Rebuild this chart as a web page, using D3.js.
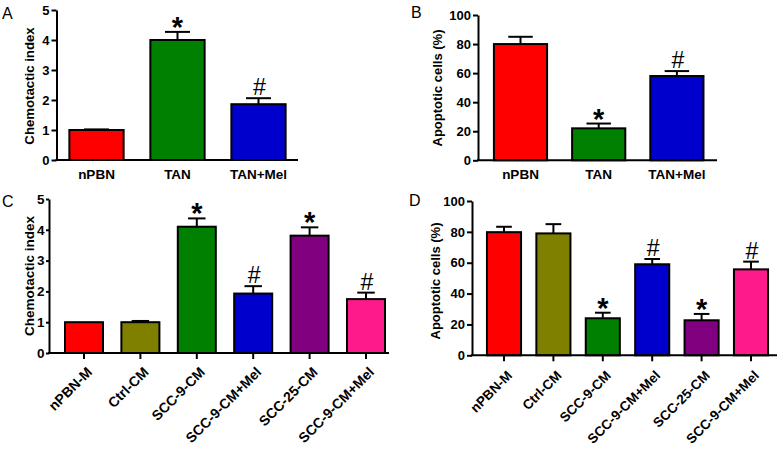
<!DOCTYPE html>
<html>
<head>
<meta charset="utf-8">
<script src="https://cdn.jsdelivr.net/npm/d3@7"></script>
<style>
  html, body { margin: 0; padding: 0; background: #fff; }
  svg { display: block; }
  text { font-family: "Liberation Sans", Arial, sans-serif; }
</style>
</head>
<body>
<svg id="chart" width="782" height="454"></svg>
<script>
// ---- Data ----
const catsAB = ["nPBN", "TAN", "TAN+Mel"];
const catsCD = ["nPBN-M", "Ctrl-CM", "SCC-9-CM", "SCC-9-CM+Mel", "SCC-25-CM", "SCC-9-CM+Mel"];

const chemoA = [1.0, 4.0, 1.86];
const chemoAErr = [0.02, 0.27, 0.2];
const marksA = ["", "*", "#"];

const apopB = [80, 22, 58];
const apopBErr = [5, 3.3, 3.4];
const marksB = ["", "*", "#"];

const chemoC = [1.0, 1.0, 4.1, 1.93, 3.81, 1.75];
const chemoCErr = [0.0, 0.04, 0.27, 0.24, 0.27, 0.21];
const marksC = ["", "", "*", "#", "*", "#"];

const apopD = [79.8, 79, 24, 59, 22.7, 55.7];
const apopDErr = [3.5, 6, 3.6, 3.4, 4.1, 5];
const marksD = ["", "", "*", "#", "*", "#"];

const colorsAB = ["#ff0000", "#008000", "#0000cc"];
const colorsCD = ["#ff0000", "#808000", "#008000", "#0000cc", "#800080", "#ff1a8c"];

const ticks5 = [0, 1, 2, 3, 4, 5];
const ticks100 = [0, 20, 40, 60, 80, 100];

const svg = d3.select("#chart");
const ctx = document.createElement("canvas").getContext("2d");

// glyph metrics (tight box) for a symbol at 100px
function glyph(ch, weight) {
  ctx.font = `${weight} 100px "Liberation Sans"`;
  const m = ctx.measureText(ch);
  return { asc: m.actualBoundingBoxAscent / 100, desc: m.actualBoundingBoxDescent / 100,
           left: m.actualBoundingBoxLeft / 100, right: m.actualBoundingBoxRight / 100 };
}
const starG = glyph("*", "bold");
const hashG = glyph("#", "normal");

// symbol with glyph height h, bottom at yBottom, centred at cx
function symbol(g, ch, gm, weight, h, cx, yBottom) {
  const fs = h / (gm.asc + gm.desc);
  const baseline = yBottom - gm.desc * fs;
  const gx = cx - ((gm.right - gm.left) / 2) * fs;
  g.append("text").attr("x", gx).attr("y", baseline).attr("font-size", fs)
    .attr("font-weight", weight).text(ch);
}

function panel(o) {
  const g = svg.append("g");
  const y = d3.scaleLinear().domain([0, o.ymax]).range([o.y0, o.y1]);
  const x = d3.scaleBand().domain(d3.range(o.cats.length))
    .range([o.bx0, o.bx1]).paddingInner(o.pi).paddingOuter(o.pi / 2);

  const bw = x.bandwidth();
  o.vals.forEach((v, i) => {
    const cx = x(i) + bw / 2;
    const top = y(v + o.err[i]);
    if (o.err[i] > 0) {
      g.append("line").attr("x1", cx).attr("x2", cx).attr("y1", y(v)).attr("y2", top)
        .attr("stroke", "#000").attr("stroke-width", 2);
      g.append("line").attr("x1", cx - bw * 0.23).attr("x2", cx + bw * 0.23)
        .attr("y1", top).attr("y2", top).attr("stroke", "#000").attr("stroke-width", 2);
    }
    g.append("rect").attr("x", x(i)).attr("y", y(v)).attr("width", bw)
      .attr("height", o.y0 - y(v)).attr("fill", o.colors[i])
      .attr("stroke", "#000").attr("stroke-width", 2);
    const m = o.marks[i];
    if (m === "*") symbol(g, "*", starG, "bold", o.starH, cx, top - 4);
    else if (m === "#") symbol(g, "#", hashG, "normal", o.hashH, cx + 1, top - 3);
  });

  // y axis
  const ya = g.append("g").attr("transform", `translate(${o.ax},0)`)
    .call(d3.axisLeft(y).tickValues(o.ticks).tickFormat(d3.format("d"))
      .tickSize(o.tk).tickSizeOuter(0).tickPadding(o.tp));
  ya.select(".domain").attr("stroke-width", 2);
  ya.selectAll(".tick line").attr("stroke-width", 2);
  ya.selectAll(".tick text").attr("font-size", o.fs).attr("font-weight", "bold").attr("fill", "#000");

  // x axis line
  g.append("line").attr("x1", o.ax - 1).attr("x2", o.axEnd).attr("y1", o.y0).attr("y2", o.y0)
    .attr("stroke", "#000").attr("stroke-width", 2);

  // x labels
  o.cats.forEach((c, i) => {
    const cx = x(i) + bw / 2;
    if (o.rot) {
      g.append("line").attr("x1", cx).attr("x2", cx).attr("y1", o.y0).attr("y2", o.y0 + 6)
        .attr("stroke", "#000").attr("stroke-width", 2);
      g.append("text").attr("transform", `translate(${cx + o.lx},${o.y0 + o.ly}) rotate(-45)`)
        .attr("text-anchor", "end").attr("font-size", o.lfs).attr("font-weight", "bold").text(c);
    } else {
      g.append("text").attr("x", cx).attr("y", o.y0 + 19).attr("text-anchor", "middle")
        .attr("font-size", o.lfs).attr("font-weight", "bold").text(c);
    }
  });

  // y title
  g.append("text").attr("transform", `translate(${o.tx},${o.ty}) rotate(-90)`)
    .attr("text-anchor", "middle").attr("font-size", o.tfs).attr("font-weight", "bold")
    .text(o.title);

  // panel letter
  g.append("text").attr("x", o.px).attr("y", o.py).attr("font-size", 16).text(o.letter);
}

panel({ letter: "A", px: 2, py: 19, cats: catsAB, vals: chemoA, err: chemoAErr, marks: marksA,
  colors: colorsAB, ymax: 5, ticks: ticks5, y0: 160, y1: 10, ax: 56.5, axEnd: 298,
  bx0: 56, bx1: 299, pi: 0.33, fs: 13, tk: 5, tp: 2, lfs: 13.5, tfs: 13.2, tx: 34, ty: 86,
  title: "Chemotactic index", starH: 11, hashH: 16, rot: false });

panel({ letter: "B", px: 411, py: 18, cats: catsAB, vals: apopB, err: apopBErr, marks: marksB,
  colors: colorsAB, ymax: 100, ticks: ticks100, y0: 160.3, y1: 15, ax: 478, axEnd: 717,
  bx0: 481.4, bx1: 716, pi: 0.32, fs: 13, tk: 5, tp: 2, lfs: 13.5, tfs: 13, tx: 442, ty: 88,
  title: "Apoptotic cells (%)", starH: 11, hashH: 16, rot: false });

panel({ letter: "C", px: 2, py: 207, cats: catsCD, vals: chemoC, err: chemoCErr, marks: marksC,
  colors: colorsCD, ymax: 5, ticks: ticks5, y0: 353, y1: 199, ax: 49, axEnd: 389,
  bx0: 55.8, bx1: 394.2, pi: 0.326, fs: 13.5, tk: 3, tp: 1.5, lfs: 14, tfs: 13.5, tx: 34, ty: 276,
  title: "Chemotactic index", starH: 11, hashH: 16, rot: true, lx: 9, ly: 20 });

panel({ letter: "D", px: 409, py: 206, cats: catsCD, vals: apopD, err: apopDErr, marks: marksD,
  colors: colorsCD, ymax: 100, ticks: ticks100, y0: 355.3, y1: 201, ax: 472, axEnd: 777,
  bx0: 479.3, bx1: 775.7, pi: 0.31, fs: 13, tk: 5, tp: 2, lfs: 13.5, tfs: 13, tx: 440, ty: 281,
  title: "Apoptotic cells (%)", starH: 11, hashH: 16, rot: true, lx: 9, ly: 21 });
</script>
</body>
</html>
